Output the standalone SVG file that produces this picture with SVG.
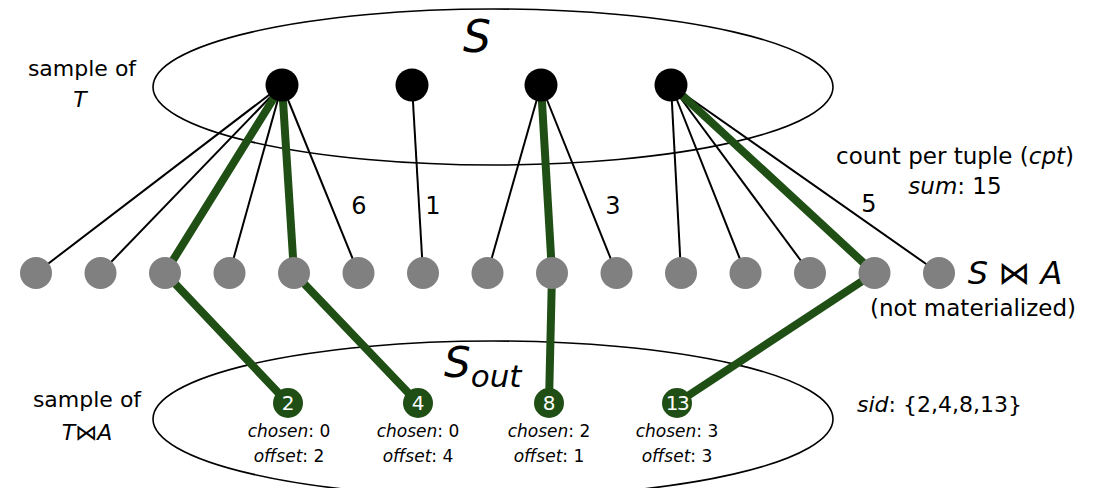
<svg xmlns="http://www.w3.org/2000/svg" width="1107" height="488" viewBox="0 0 1107 488">
  <style>
    text { font-family: "DejaVu Sans", "Liberation Sans", sans-serif; fill: #000; }
    .lbl { font-size: 22px; }
    .big { font-size: 23px; }
    .small { font-size: 17px; text-anchor: middle; }
    .num { font-size: 24px; text-anchor: middle; }
    .it { font-style: italic; }
    .set { fill: none; stroke: #000; stroke-width: 1.6; }
    .edge { stroke: #000; stroke-width: 2; fill: none; }
    .pick { stroke: #1f4f14; stroke-width: 8; fill: none; }
    .tup { fill: #000; }
    .join { fill: #808080; }
    .out { fill: #1f4f14; }
    .outnum { font-size: 20px; fill: #fff; text-anchor: middle; }
  </style>

  <!-- sample sets -->
  <g id="set-S">
    <ellipse class="set" cx="493" cy="87" rx="340" ry="78"/>
    <text x="477" y="52" class="it" font-size="44" text-anchor="middle">S</text>
  </g>
  <g id="set-Sout">
    <ellipse class="set" cx="493" cy="419" rx="340" ry="78"/>
    <text x="444" y="377" font-size="42"><tspan class="it">S</tspan><tspan class="it" font-size="31" dy="10">out</tspan></text>
  </g>

  <!-- connectors -->
  <g id="connectors">
    <!-- tuple 1 -> 6 join results -->
    <line class="edge" x1="282" y1="85" x2="36" y2="273"/>
    <line class="edge" x1="282" y1="85" x2="100.5" y2="273"/>
    <line class="edge" x1="282" y1="85" x2="229.5" y2="273"/>
    <line class="edge" x1="282" y1="85" x2="358.5" y2="273"/>
    <!-- tuple 2 -> 1 join result -->
    <line class="edge" x1="412" y1="85" x2="423" y2="273"/>
    <!-- tuple 3 -> 3 join results -->
    <line class="edge" x1="541" y1="85" x2="487.5" y2="273"/>
    <line class="edge" x1="541" y1="85" x2="616.5" y2="273"/>
    <!-- tuple 4 -> 5 join results -->
    <line class="edge" x1="671" y1="85" x2="681" y2="273"/>
    <line class="edge" x1="671" y1="85" x2="745.5" y2="273"/>
    <line class="edge" x1="671" y1="85" x2="810" y2="273"/>
    <line class="edge" x1="671" y1="85" x2="939" y2="273"/>
    <!-- sampled join results -->
    <polyline class="pick" points="282,85 165,273 288,403"/>
    <polyline class="pick" points="282,85 294,273 418,403"/>
    <polyline class="pick" points="541,85 552,273 549,403"/>
    <polyline class="pick" points="671,85 874.5,273 677,403"/>
  </g>

  <!-- edge counts -->
  <g id="counts">
    <text class="num" x="359" y="214">6</text>
    <text class="num" x="433" y="214">1</text>
    <text class="num" x="613" y="214">3</text>
    <text class="num" x="869" y="212">5</text>
  </g>

  <!-- tuples of S -->
  <g id="t1"><circle class="tup" cx="282" cy="85" r="16.5"/></g>
  <g id="t2"><circle class="tup" cx="412" cy="85" r="16.5"/></g>
  <g id="t3"><circle class="tup" cx="541" cy="85" r="16.5"/></g>
  <g id="t4"><circle class="tup" cx="671" cy="85" r="16.5"/></g>

  <!-- join results S ⋈ A -->
  <g id="j1"><circle class="join" cx="36" cy="273" r="16"/></g>
  <g id="j2"><circle class="join" cx="100.5" cy="273" r="16"/></g>
  <g id="j3"><circle class="join" cx="165" cy="273" r="16"/></g>
  <g id="j4"><circle class="join" cx="229.5" cy="273" r="16"/></g>
  <g id="j5"><circle class="join" cx="294" cy="273" r="16"/></g>
  <g id="j6"><circle class="join" cx="358.5" cy="273" r="16"/></g>
  <g id="j7"><circle class="join" cx="423" cy="273" r="16"/></g>
  <g id="j8"><circle class="join" cx="487.5" cy="273" r="16"/></g>
  <g id="j9"><circle class="join" cx="552" cy="273" r="16"/></g>
  <g id="j10"><circle class="join" cx="616.5" cy="273" r="16"/></g>
  <g id="j11"><circle class="join" cx="681" cy="273" r="16"/></g>
  <g id="j12"><circle class="join" cx="745.5" cy="273" r="16"/></g>
  <g id="j13"><circle class="join" cx="810" cy="273" r="16"/></g>
  <g id="j14"><circle class="join" cx="874.5" cy="273" r="16"/></g>
  <g id="j15"><circle class="join" cx="939" cy="273" r="16"/></g>

  <!-- sampled output tuples -->
  <g id="o2">
    <circle class="out" cx="288" cy="403" r="15"/>
    <text class="outnum" x="288" y="410">2</text>
    <text class="small" x="289" y="437"><tspan class="it">chosen</tspan>: 0</text>
    <text class="small" x="289" y="462"><tspan class="it">offset</tspan>: 2</text>
  </g>
  <g id="o4">
    <circle class="out" cx="418" cy="403" r="15"/>
    <text class="outnum" x="418" y="410">4</text>
    <text class="small" x="418" y="437"><tspan class="it">chosen</tspan>: 0</text>
    <text class="small" x="418" y="462"><tspan class="it">offset</tspan>: 4</text>
  </g>
  <g id="o8">
    <circle class="out" cx="549" cy="403" r="15"/>
    <text class="outnum" x="549" y="410">8</text>
    <text class="small" x="549" y="437"><tspan class="it">chosen</tspan>: 2</text>
    <text class="small" x="549" y="462"><tspan class="it">offset</tspan>: 1</text>
  </g>
  <g id="o13">
    <circle class="out" cx="677" cy="403" r="15"/>
    <text class="outnum" x="677" y="410" letter-spacing="-1.5">13</text>
    <text class="small" x="677" y="437"><tspan class="it">chosen</tspan>: 3</text>
    <text class="small" x="677" y="462"><tspan class="it">offset</tspan>: 3</text>
  </g>

  <!-- side annotations -->
  <g id="note-sampleT">
    <text class="lbl" x="82" y="76" text-anchor="middle">sample of</text>
    <text class="lbl it" x="80" y="107" text-anchor="middle">T</text>
  </g>
  <g id="note-sampleTA">
    <text class="lbl" x="87" y="407" text-anchor="middle">sample of</text>
    <text class="lbl" x="87" y="440" text-anchor="middle"><tspan class="it">T</tspan>⋈<tspan class="it">A</tspan></text>
  </g>
  <g id="note-cpt">
    <text class="big" x="955" y="164" text-anchor="middle">count per tuple (<tspan class="it">cpt</tspan>)</text>
    <text class="big" x="955" y="194" text-anchor="middle"><tspan class="it">sum</tspan>: 15</text>
  </g>
  <g id="note-join">
    <text x="1015" y="284" font-size="32" text-anchor="middle"><tspan class="it">S</tspan> ⋈ <tspan class="it">A</tspan></text>
    <text class="big" x="973" y="316" text-anchor="middle">(not materialized)</text>
  </g>
  <g id="note-sid">
    <text class="lbl" x="857" y="412"><tspan class="it">sid</tspan>: {2,4,8,13}</text>
  </g>
</svg>
